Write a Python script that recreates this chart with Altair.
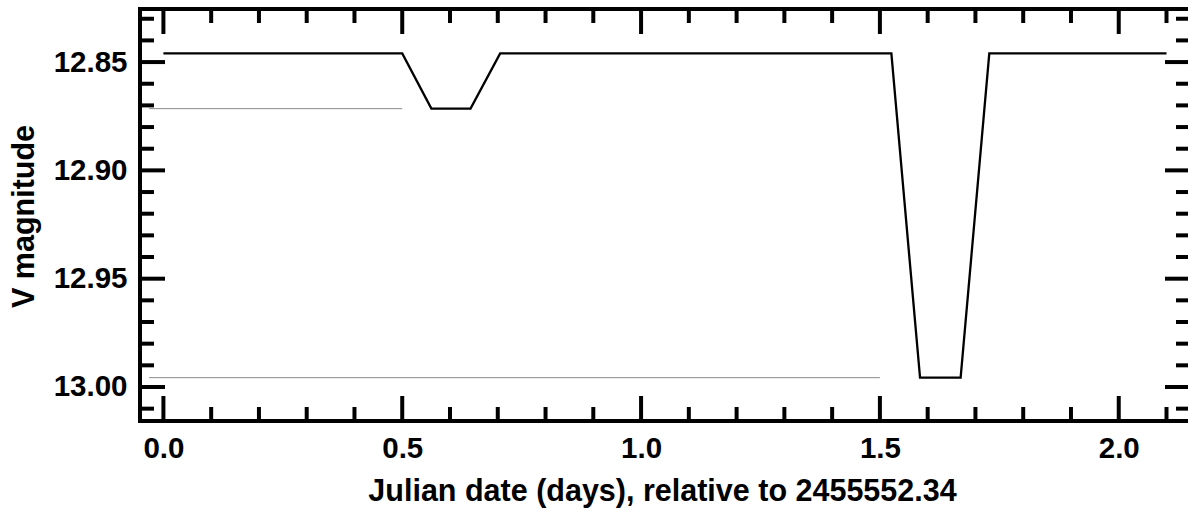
import altair as alt
import pandas as pd

# Light curve of the eclipsing binary (V band), days relative to JD 2455552.34
curve_days = [0.0, 0.5, 0.561, 0.643, 0.705, 1.524, 1.584, 1.669, 1.729, 2.1]
curve_mag = [12.846, 12.846, 12.8715, 12.8715, 12.846, 12.846, 12.9957, 12.9957, 12.846, 12.846]

# Thin reference lines marking the depth of each eclipse
guide_start = [-0.03, -0.03]
guide_end = [0.5, 1.5]
guide_mag = [12.8715, 12.9957]

# Tick positions
x_major = [0.0, 0.5, 1.0, 1.5, 2.0]
x_minor = [0.1, 0.2, 0.3, 0.4, 0.6, 0.7, 0.8, 0.9, 1.1, 1.2, 1.3, 1.4,
           1.6, 1.7, 1.8, 1.9, 2.1]
y_major = [12.85, 12.90, 12.95, 13.00]
y_minor = [12.83, 12.84, 12.86, 12.87, 12.88, 12.89, 12.91, 12.92, 12.93, 12.94,
           12.96, 12.97, 12.98, 12.99, 13.01]

W, H = 1048, 412
FONT = "Liberation Sans"
LW = 4  # frame and tick thickness

x_scale = alt.Scale(domain=[-0.049, 2.145], nice=False, zero=False)
y_scale = alt.Scale(domain=[12.8255, 13.0157], nice=False, zero=False, reverse=True)

curve_df = pd.DataFrame({"day": curve_days, "mag": curve_mag})
guide_df = pd.DataFrame({"start": guide_start, "end": guide_end, "mag": guide_mag})
xmaj_df = pd.DataFrame({"v": x_major})
xmin_df = pd.DataFrame({"v": x_minor})
ymaj_df = pd.DataFrame({"v": y_major})
ymin_df = pd.DataFrame({"v": y_minor})
frame_df = pd.DataFrame({"k": [0]})

# Axes carry only labels and titles; frame and ticks are drawn as rules below.
# Every layer uses the same axis definition so the layered axes merge cleanly.
x_axis = alt.Axis(
    values=x_major, format=".1f", domain=False, ticks=False, grid=False,
    labelFont=FONT, labelFontSize=29.5, labelFontWeight="bold", labelColor="black",
    labelPadding=13,
    title="Julian date (days), relative to 2455552.34",
    titleFont=FONT, titleFontSize=30.5, titleFontWeight="bold", titleColor="black",
    titleBaseline="alphabetic", titleAlign="center", titleX=522, titleY=79,
)
y_axis = alt.Axis(
    values=y_major, format=".2f", domain=False, ticks=False, grid=False,
    labelFont=FONT, labelFontSize=29.5, labelFontWeight="bold", labelColor="black",
    labelPadding=13,
    title="V magnitude",
    titleFont=FONT, titleFontSize=30.5, titleFontWeight="bold", titleColor="black",
    titleBaseline="alphabetic", titleAlign="center", titleAngle=270,
    titleX=-107, titleY=207,
)


def X(field):
    return alt.X(field, scale=x_scale, axis=x_axis)


def Y(field):
    return alt.Y(field, scale=y_scale, axis=y_axis)


curve = alt.Chart(curve_df).mark_line(color="black", strokeWidth=2.3).encode(
    x=X("day:Q"),
    y=Y("mag:Q"),
    order="day:Q",
)

guides = alt.Chart(guide_df).mark_rule(color="#8a8a8a", strokeWidth=1).encode(
    x=X("start:Q"),
    x2="end:Q",
    y=Y("mag:Q"),
)


def xticks(df, length):
    bottom = alt.Chart(df).mark_rule(color="black", strokeWidth=LW).encode(
        x=X("v:Q"), y=alt.value(H), y2=alt.value(H - length),
    )
    top = alt.Chart(df).mark_rule(color="black", strokeWidth=LW).encode(
        x=X("v:Q"), y=alt.value(0), y2=alt.value(length),
    )
    return [bottom, top]


def yticks(df, length):
    left = alt.Chart(df).mark_rule(color="black", strokeWidth=LW).encode(
        y=Y("v:Q"), x=alt.value(0), x2=alt.value(length),
    )
    right = alt.Chart(df).mark_rule(color="black", strokeWidth=LW).encode(
        y=Y("v:Q"), x=alt.value(W + 2), x2=alt.value(W + 2 - length),
    )
    return [left, right]


frame_left = alt.Chart(frame_df).mark_rule(color="black", strokeWidth=LW).encode(
    x=alt.value(0), y=alt.value(-LW / 2), y2=alt.value(H + LW / 2)
)
frame_top = alt.Chart(frame_df).mark_rule(color="black", strokeWidth=LW).encode(
    y=alt.value(0), x=alt.value(-LW / 2), x2=alt.value(W + 10)
)
frame_bottom = alt.Chart(frame_df).mark_rule(color="black", strokeWidth=LW).encode(
    y=alt.value(H), x=alt.value(-LW / 2), x2=alt.value(W + 10)
)

layers = [curve, guides]
layers += xticks(xmaj_df, 25) + xticks(xmin_df, 14)
layers += yticks(ymaj_df, 25) + yticks(ymin_df, 14)
layers += [frame_left, frame_top, frame_bottom]

chart = alt.layer(*layers).properties(
    width=W,
    height=H,
    padding={"left": 140, "top": 9, "right": 0, "bottom": 87},
    autosize=alt.AutoSizeParams(type="none"),
    background="white",
).configure_view(stroke=None)

chart.save("out.html", embed_options={"renderer": "svg", "actions": False})
